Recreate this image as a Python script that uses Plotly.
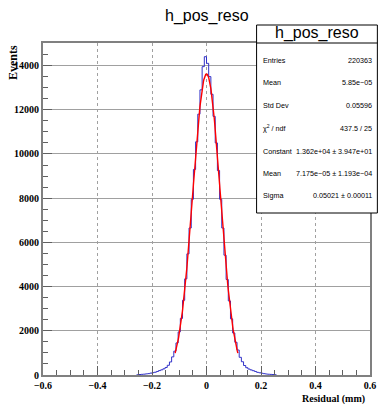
import numpy as np
import plotly.graph_objects as go

# ---- data ----
bin_lo = -0.256
bin_width = 0.008
counts = [10, 22, 30, 38, 50, 62, 85, 105, 125, 160, 200, 235, 280, 340, 440, 590,
          820, 1080, 1450, 1950, 2560, 3380, 4350, 5480, 6650, 7950, 9300, 10550,
          11800, 12900, 13950, 14400,
          14100, 13500, 12700, 11700, 10500, 9250, 7950, 6650, 5420, 4320, 3350,
          2540, 1900, 1480, 1130, 800, 600, 430, 330, 270, 230, 195, 160, 120, 100,
          80, 60, 45, 35, 28, 20, 12]

fit_constant = 1.362e4
fit_mean = 7.175e-05
fit_sigma = 0.05021
fit_range = [-0.115, 0.115]

stat_labels = ["Entries", "Mean", "Std Dev", "χ<sup>2</sup> / ndf", "Constant", "Mean", "Sigma"]
stat_values = ["220363", "5.85e−05", "0.05596", "437.5 / 25",
               "1.362e+04 ± 3.947e+01", "7.175e−05 ± 1.193e−04", "0.05021 ± 0.00011"]

x_ticks = [-0.6, -0.4, -0.2, 0, 0.2, 0.4, 0.6]
x_ticktext = ["−0.6", "−0.4", "−0.2", "0", "0.2", "0.4", "0.6"]
y_ticks = [0, 2000, 4000, 6000, 8000, 10000, 12000, 14000]
y_ticktext = ["0", "2000", "4000", "6000", "8000", "10000", "12000", "14000"]

# ---- geometry ----
W, H = 383, 404
ML, MR, MT, MB = 43, 7, 43, 29
PW, PH = W - ML - MR, H - MT - MB

def px(x):
    return (x - ML) / PW

def py(y):
    return (H - MB - y) / PH

edges = bin_lo + bin_width * np.arange(len(counts) + 1)
hx = [edges[0]] + list(edges) + [edges[-1]]
hy = [0] + list(counts) + [counts[-1], 0]

fx = np.linspace(fit_range[0], fit_range[1], 200)
fy = fit_constant * np.exp(-0.5 * ((fx - fit_mean) / fit_sigma) ** 2)

fig = go.Figure()
fig.add_trace(go.Scatter(x=hx, y=hy, mode="lines", line=dict(color="#3030c8", width=1, shape="hv"),
                         hoverinfo="skip"))
fig.add_trace(go.Scatter(x=fx, y=fy, mode="lines", line=dict(color="#ff0000", width=1.4),
                         hoverinfo="skip"))

tickfont = dict(family="Liberation Serif", size=10, color="black", weight="bold")
fig.update_layout(
    width=W, height=H, margin=dict(l=ML, r=MR, t=MT, b=MB),
    paper_bgcolor="white", plot_bgcolor="white", showlegend=False,
    xaxis=dict(range=[-0.6, 0.6], tickvals=x_ticks, ticktext=x_ticktext, tickfont=tickfont,
               showgrid=True, gridcolor="#a0a0a0", griddash="dot", gridwidth=1,
               showline=True, mirror=True, linecolor="#808080", linewidth=2,
               ticks="inside", ticklen=9, tickcolor="#606060", zeroline=False,
               minor=dict(dtick=0.05, ticks="inside", ticklen=5, tickcolor="#606060", showgrid=False)),
    yaxis=dict(range=[0, 15020], tickvals=y_ticks, ticktext=y_ticktext, tickfont=tickfont,
               showgrid=True, gridcolor="#a0a0a0", gridwidth=1,
               showline=True, mirror=True, linecolor="#808080", linewidth=2,
               ticks="inside", ticklen=9, tickcolor="#606060", zeroline=False,
               minor=dict(dtick=500, ticks="inside", ticklen=5, tickcolor="#606060", showgrid=False)),
)

shapes = [
    dict(type="rect", xref="paper", yref="paper", x0=px(260.5), x1=px(383.5), y0=py(213), y1=py(25),
         fillcolor="white", line=dict(color="black", width=1), layer="above"),
    dict(type="line", xref="paper", yref="paper", x0=px(260.5), x1=px(383.5), y0=py(43), y1=py(43),
         line=dict(color="black", width=1), layer="above"),
]
fig.update_layout(shapes=shapes)

title_font = dict(family="Liberation Sans", size=16, color="black")
stat_font = dict(family="Liberation Sans", size=7.2, color="black")
ann = [
    dict(text="h_pos_reso", x=px(210), y=py(16), font=title_font),
    dict(text="h_pos_reso", x=px(322), y=py(33), font=title_font),
    dict(text="Events", x=px(12), y=py(43), yanchor="top", textangle=-90,
         font=dict(family="Liberation Serif", size=12, color="black", weight="bold")),
    dict(text="Residual (mm)", x=px(373), y=py(399), xanchor="right",
         font=dict(family="Liberation Serif", size=10, color="black", weight="bold")),
]
row_y = [60.7, 82.5, 105.3, 128.3, 151.5, 173.3, 195]
for lab, val, yy in zip(stat_labels, stat_values, row_y):
    ann.append(dict(text=lab, x=px(265), y=py(yy), xanchor="left", font=stat_font))
    ann.append(dict(text=val, x=px(380), y=py(yy), xanchor="right", font=stat_font))
for a in ann:
    a.setdefault("xref", "paper")
    a.setdefault("yref", "paper")
    a.setdefault("showarrow", False)
    a.setdefault("yanchor", "middle")
    a.setdefault("xanchor", "center")
fig.update_layout(annotations=ann)

fig.write_html("out.html")
